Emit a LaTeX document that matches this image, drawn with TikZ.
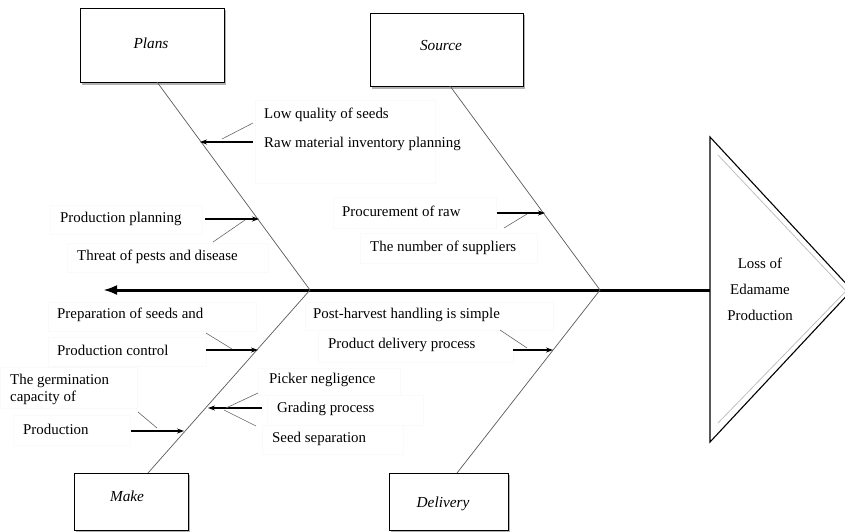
\documentclass[tikz,border=0pt]{standalone}
\usepackage{fontspec}
\setmainfont{Liberation Serif}
\usetikzlibrary{arrows.meta}
\begin{document}
\begin{tikzpicture}[x=1pt,y=-1pt,
  lbl/.style={font=\fontsize{14.9}{16}\selectfont, anchor=west, inner sep=0pt},
  headtext/.style={font=\fontsize{14.9}{16}\selectfont, inner sep=0pt},
  catbox/.style={draw=black, line width=1pt, fill=white},
  cattext/.style={font=\fontsize{15.3}{17}\selectfont\itshape, inner sep=0pt},
  bone/.style={draw=black!65, line width=0.7pt},
  tick/.style={draw=black!60, line width=0.6pt},
  cause/.style={draw=black, line width=1.1pt, -{Stealth[length=7pt,width=5pt]}},
  faint/.style={draw=black!2, line width=0.4pt}
]
\useasboundingbox (0,0) rectangle (845,531);

% faint text frames
\draw[faint] (255,100) rectangle (435,183);
\draw[faint] (50,205) rectangle (202,234);
\draw[faint] (67,243) rectangle (268,272);
\draw[faint] (333,197) rectangle (496,228);
\draw[faint] (360,233) rectangle (537,263);
\draw[faint] (48,302) rectangle (256,331);
\draw[faint] (48,337) rectangle (206,366);
\draw[faint] (0,367) rectangle (137,408);
\draw[faint] (13,415) rectangle (130,445);
\draw[faint] (258,368) rectangle (400,395);
\draw[faint] (267,395) rectangle (423,425);
\draw[faint] (262,425) rectangle (403,454);
\draw[faint] (305,302) rectangle (553,330);
\draw[faint] (318,330) rectangle (513,362);

% category boxes with shadow
\fill[black!30] (82,10) rectangle (226,84.5);
\node[catbox, minimum width=144pt, minimum height=74pt, anchor=north west] (plans) at (80,8) {};
\node[cattext] (plansT) at (151,43) {Plans};
\fill[black!30] (372,15) rectangle (525,88.5);
\node[catbox, minimum width=153pt, minimum height=73pt, anchor=north west] (source) at (370,13) {};
\node[cattext] (sourceT) at (441,46) {Source};
\fill[black!30] (76,475) rectangle (190,532);
\node[catbox, minimum width=114pt, minimum height=57pt, anchor=north west] (make) at (74,473) {};
\node[cattext] (makeT) at (127,496) {Make};
\fill[black!30] (391,475) rectangle (510,532);
\node[catbox, minimum width=119pt, minimum height=57pt, anchor=north west] (delivery) at (389,473) {};
\node[cattext] (deliveryT) at (443,504) {Delivery};

% head triangle
\coordinate (hTop) at (710,137);
\coordinate (hTip) at (852,290);
\coordinate (hBot) at (710,442);
\draw[black, line width=1.1pt] (hTop) -- (hTip) -- (hBot) -- cycle;
\draw[black!25, line width=0.8pt] (718,155) -- (846,291) -- (718,423);
\node[headtext] (head) at (760,263) {Loss of};
\node[headtext] (head2) at (760,289) {Edamame};
\node[headtext] (head3) at (760,315) {Production};

% spine
\coordinate (jPlans) at (310,290);
\coordinate (jSource) at (600,290);
\coordinate (spineL) at (103,290);
\draw[black, line width=3pt, -{Latex[length=14pt,width=10pt]}] (hTop |- jSource) -- (spineL);

% bones
\coordinate (bPlans) at (157,82);
\coordinate (bSource) at (450,86);
\coordinate (bMake) at (148,473);
\coordinate (bDelivery) at (457,473);
\draw[bone] (bPlans) -- (jPlans);
\draw[bone] (bSource) -- (jSource);
\draw[bone] (jPlans) -- (bMake);
\draw[bone] (jSource) -- (bDelivery);

% labels
\node[lbl] (t1) at (264,115) {Low quality of seeds};
\node[lbl] (t2) at (264,144) {Raw material inventory planning};
\node[lbl] (t3) at (60,219) {Production planning};
\node[lbl] (t4) at (77,257) {Threat of pests and disease};
\node[lbl] (t5) at (342,211) {Procurement of raw};
\node[lbl] (t6) at (370,248) {The number of suppliers};
\node[lbl] (t7) at (57,315) {Preparation of seeds and};
\node[lbl] (t8) at (57,350) {Production control};
\node[lbl] (t9) at (10,381) {The germination};
\node[lbl] (t10) at (10,398) {capacity of};
\node[lbl] (t11) at (23,429) {Production};
\node[lbl] (t12) at (269,380) {Picker negligence};
\node[lbl] (t13) at (277,409) {Grading process};
\node[lbl] (t14) at (272,439) {Seed separation};
\node[lbl] (t15) at (313,315) {Post-harvest handling is simple};
\node[lbl] (t16) at (328,345) {Product delivery process};

% cause arrows
\coordinate (a1s) at (253,142); \coordinate (a1e) at (200,142);
\draw[cause] (a1s) -- (a1e);
\coordinate (k1s) at (253,123); \coordinate (k1e) at (222,139);
\draw[tick] (k1s) -- (k1e);

\coordinate (a2s) at (205,219); \coordinate (a2e) at (259,219);
\draw[cause] (a2s) -- (a2e);
\coordinate (k2s) at (213,242); \coordinate (k2e) at (245,220);
\draw[tick] (k2s) -- (k2e);

\coordinate (a3s) at (497,213); \coordinate (a3e) at (545,213);
\draw[cause] (a3s) -- (a3e);
\coordinate (k3s) at (504,228); \coordinate (k3e) at (527,214);
\draw[tick] (k3s) -- (k3e);

\coordinate (a4s) at (206,350); \coordinate (a4e) at (258,350);
\draw[cause] (a4s) -- (a4e);
\coordinate (k4s) at (206,333); \coordinate (k4e) at (232,349);
\draw[tick] (k4s) -- (k4e);

\coordinate (a5s) at (131,431); \coordinate (a5e) at (184,431);
\draw[cause] (a5s) -- (a5e);
\coordinate (k5s) at (138,412); \coordinate (k5e) at (157,428);
\draw[tick] (k5s) -- (k5e);

\coordinate (a6s) at (262,408); \coordinate (a6e) at (208,408);
\draw[cause] (a6s) -- (a6e);
\coordinate (k6s) at (258,393); \coordinate (k6e) at (226,408);
\draw[tick] (k6s) -- (k6e);
\coordinate (k7s) at (256,426); \coordinate (k7e) at (224,410);
\draw[tick] (k7s) -- (k7e);

\coordinate (a7s) at (513,350); \coordinate (a7e) at (553,350);
\draw[cause] (a7s) -- (a7e);
\coordinate (k8s) at (500,330); \coordinate (k8e) at (527,348);
\draw[tick] (k8s) -- (k8e);
\end{tikzpicture}
\end{document}
